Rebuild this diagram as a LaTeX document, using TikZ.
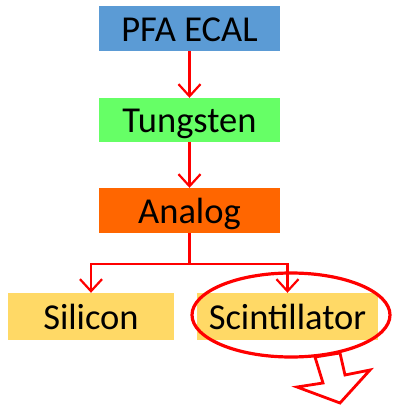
\documentclass[tikz,border=0pt]{standalone}
\usepackage{fontspec}
\setmainfont{Carlito}
\usetikzlibrary{arrows.meta,positioning,calc,shapes.geometric}
\definecolor{kek}{RGB}{91,155,213}
\definecolor{zold}{RGB}{102,255,102}
\definecolor{narancs}{RGB}{255,102,0}
\definecolor{sarga}{RGB}{255,217,102}
\tikzset{
  tile/.style={rectangle,minimum height=45pt,inner sep=2pt,text height=31pt,
    text depth=6pt,font=\fontsize{36.5}{42}\selectfont},
  arr/.style={draw=red,line width=2.2pt,-{Straight Barb[length=12pt,width=22pt]}},
  ag/.style={draw=red,line width=2.2pt},
  oval/.style={ellipse,draw=red,line width=3.2pt,inner sep=0pt},
  bigarr/.style={draw=red,line width=2.8pt,fill=white,line join=miter},
}

\begin{document}
\begin{tikzpicture}[x=1pt,y=-1pt]
  \useasboundingbox (0,0) rectangle (392,408);
  \node[tile,fill=kek,minimum width=181pt] (pfa) at (189.5,28.5) {PFA ECAL};
  \node[tile,fill=zold,minimum width=181pt,minimum height=44pt] (tung) at (189.5,120) {Tungsten};
  \node[tile,fill=narancs,minimum width=181pt] (ana) at (189.5,210.5) {Analog};
  \node[tile,fill=sarga,minimum width=166pt,minimum height=47pt] (si) at (91,316.5) {Silicon};
  \node[tile,fill=sarga,minimum width=181pt,minimum height=47pt] (sci) at (287.5,316.5) {Scintillator};
  \coordinate (elag) at (189.5,264);
  \draw[arr] (pfa) -- (tung);
  \draw[arr] (tung) -- (ana);
  \draw[ag] (ana) -- (elag);
  \draw[arr] (elag) -| (si);
  \draw[arr] (elag) -| (sci);
  % kimeno nyil
  \draw[bigarr] (315,357) -- (323,383) -- (297,387) -- (340,403) -- (370,370)
    -- (345,375) -- (340,353) -- cycle;
  \node[oval,minimum width=198pt,minimum height=84pt] (kor) at (291,315) {};
\end{tikzpicture}
\end{document}
